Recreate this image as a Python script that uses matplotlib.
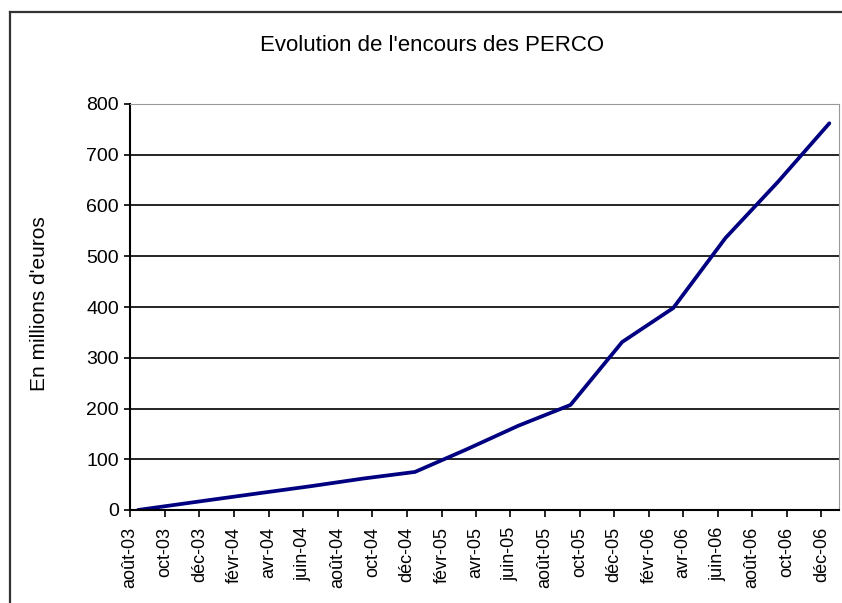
import datetime as dt
import pandas as pd
import matplotlib.pyplot as plt
from matplotlib.lines import Line2D

# data (millions d'euros, mid-month)
months = ['2003-08', '2003-12', '2004-03', '2004-06', '2004-09', '2004-12',
          '2005-03', '2005-06', '2005-09', '2005-12', '2006-03', '2006-06',
          '2006-09', '2006-12']
encours = [0, 19, 33, 47, 62, 75, 119, 166, 207, 331, 398, 536, 646, 762]

tick_labels = ['août-03', 'oct-03', 'déc-03', 'févr-04', 'avr-04', 'juin-04',
               'août-04', 'oct-04', 'déc-04', 'févr-05', 'avr-05', 'juin-05',
               'août-05', 'oct-05', 'déc-05', 'févr-06', 'avr-06', 'juin-06',
               'août-06', 'oct-06', 'déc-06']

plt.rcParams['font.family'] = ['Liberation Sans', 'DejaVu Sans']

dates = pd.to_datetime(months) + pd.Timedelta(days=14)
tick_dates = pd.date_range('2003-08-01', periods=len(tick_labels), freq='2MS')

fig = plt.figure(figsize=(8.42, 6.03), dpi=100)
ax = fig.add_axes([130 / 842, 1 - 510 / 603, 709 / 842, 406 / 603])

ax.plot(dates, encours, color='#000080', lw=2.7, solid_capstyle='round')

ax.set_xlim(dt.datetime(2003, 8, 1), dt.datetime(2007, 1, 1))
ax.set_ylim(0, 800)
ax.set_yticks(range(0, 801, 100))
ax.set_xticks(tick_dates)
ax.set_xticklabels(tick_labels, rotation=90, fontsize=13)
ax.tick_params(axis='y', labelsize=14, direction='out', length=4, width=1.2, pad=4)
ax.tick_params(axis='x', direction='out', length=5, width=1.2, pad=7)
ax.yaxis.grid(True, color='black', lw=1.2)
ax.set_axisbelow(True)

ax.spines['left'].set_color('black')
ax.spines['left'].set_linewidth(1.5)
ax.spines['bottom'].set_color('black')
ax.spines['bottom'].set_linewidth(1.5)
ax.spines['top'].set_color('#999999')
ax.spines['right'].set_color('#999999')

fig.text(432 / 842, 1 - 51 / 603, "Evolution de l'encours des PERCO",
         ha='center', va='baseline', fontsize=16)
fig.text(40 / 842, 1 - 304 / 603, "En millions d'euros", rotation=90,
         ha='center', va='center', fontsize=15)

# chart area frame (cut off right and bottom)
fig.add_artist(Line2D([10 / 842, 10 / 842], [0, 1 - 12 / 603], color='#333333', lw=1.6))
fig.add_artist(Line2D([10 / 842, 1], [1 - 12 / 603, 1 - 12 / 603], color='#333333', lw=1.6))

fig.savefig('out.png', dpi=100)
